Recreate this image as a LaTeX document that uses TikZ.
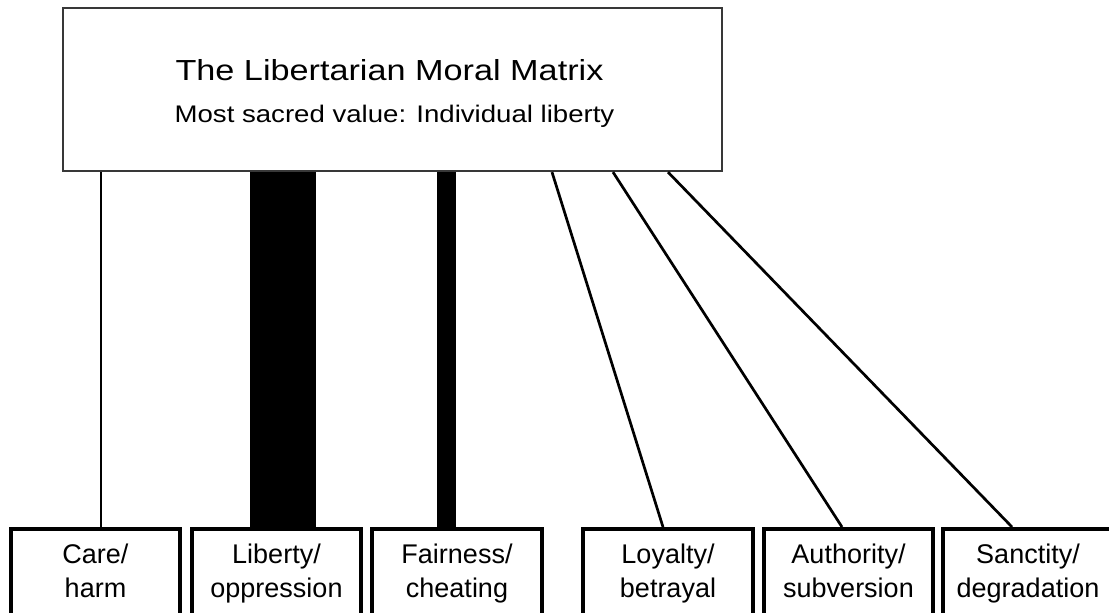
\documentclass[tikz,border=0pt]{standalone}
\usepackage{fontspec}
\setmainfont{Liberation Sans}
\usepackage{graphicx}
\usetikzlibrary{calc}
\begin{document}
\begin{tikzpicture}[x=1pt,y=-1pt,
  topbox/.style={draw=black!78, line width=2.2pt, fill=white, minimum width=659pt, minimum height=163pt, inner sep=0pt},
  catbox/.style={draw=black, line width=4pt, fill=white, minimum width=169.5pt, inner xsep=0pt, inner ysep=0pt, align=center, anchor=north, font=\fontsize{27}{34}\selectfont},
  titletext/.style={anchor=base, inner sep=0pt, font=\fontsize{29}{34}\selectfont},
  subtext/.style={anchor=base, inner sep=0pt, font=\fontsize{24}{30}\selectfont},
  link/.style={line width=2.7pt, black},
  bar/.style={fill=black}]
\clip (0,0) rectangle (1109,613);
\fill[white] (0,0) rectangle (1109,613);
% top box
\node[topbox] (top) at (392.5,89.5) {};
\node[titletext] (title) at ($(top.north)+(-3,74)$) {\scalebox{1.18}[1]{The Libertarian Moral Matrix}};
\node[subtext] (sub) at ($(top.north)+(2,116)$) {\scalebox{1.15}[1]{Most sacred value: Individual liberty}};
% bottom boxes
\node[catbox] (care) at (95.5,527) {\rule{0pt}{34pt}Care/\\harm\rule[-23pt]{0pt}{23pt}};
\node[catbox] (liberty) at (276.5,527) {\rule{0pt}{34pt}Liberty/\\oppression\rule[-23pt]{0pt}{23pt}};
\node[catbox] (fair) at (457,527) {\rule{0pt}{34pt}Fairness/\\cheating\rule[-23pt]{0pt}{23pt}};
\node[catbox] (loyal) at (668,527) {\rule{0pt}{34pt}Loyalty/\\betrayal\rule[-23pt]{0pt}{23pt}};
\node[catbox] (auth) at (848.5,527) {\rule{0pt}{34pt}Authority/\\subversion\rule[-23pt]{0pt}{23pt}};
\node[catbox] (sanct) at (1028,527) {\rule{0pt}{34pt}Sanctity/\\degradation\rule[-23pt]{0pt}{23pt}};
% x positions of connector ends
\coordinate (xa) at (101,0);
\coordinate (lb1) at (250,0);
\coordinate (lb2) at (316,0);
\coordinate (fb1) at (437,0);
\coordinate (fb2) at (456,0);
\coordinate (lyt) at (552,0);
\coordinate (lyb) at (663,0);
\coordinate (aut) at (613,0);
\coordinate (aub) at (842,0);
\coordinate (sat) at (668,0);
\coordinate (sab) at (1012,0);
% connectors
\draw[link] (top.south -| xa) -- (care.north -| xa);
\fill[bar] (top.south -| lb1) rectangle (liberty.north -| lb2);
\fill[bar] (top.south -| fb1) rectangle (fair.north -| fb2);
\draw[link] (top.south -| lyt) -- (loyal.north -| lyb);
\draw[link] (top.south -| aut) -- (auth.north -| aub);
\draw[link] (top.south -| sat) -- (sanct.north -| sab);
\end{tikzpicture}
\end{document}
